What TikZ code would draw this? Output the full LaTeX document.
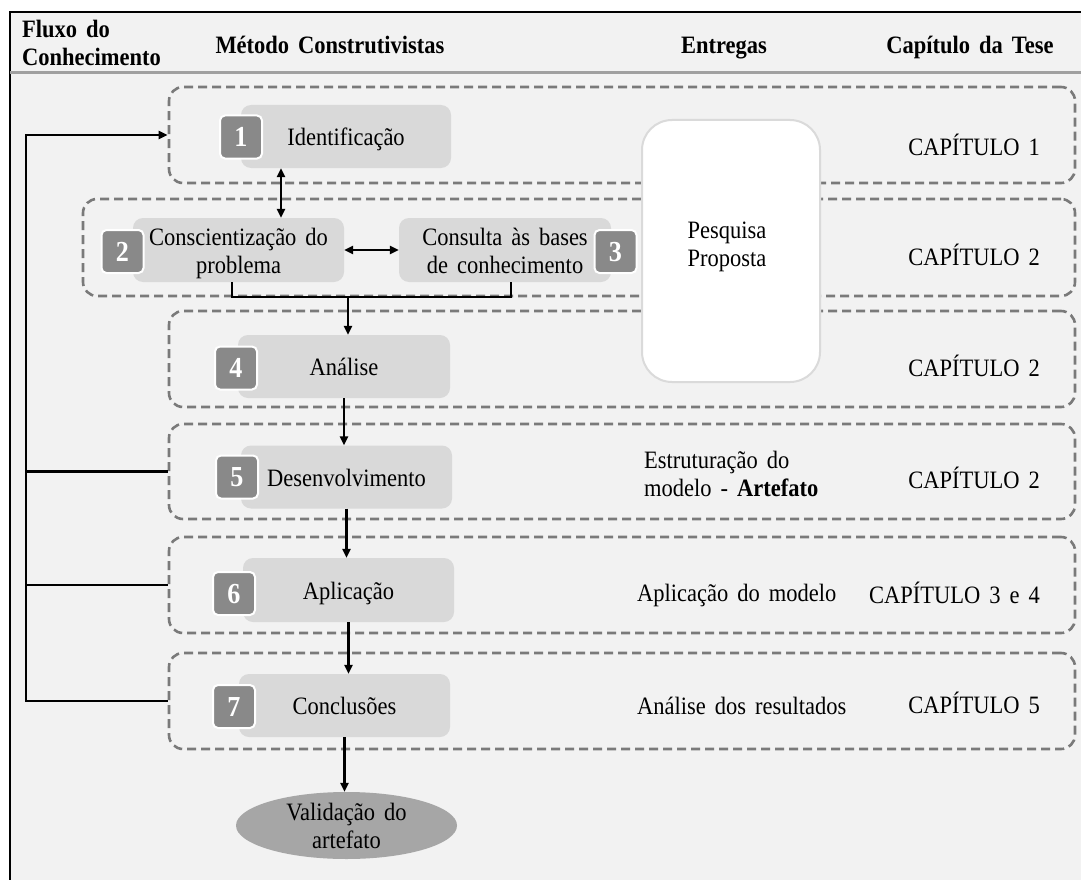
\documentclass[tikz,border=0pt]{standalone}
\usepackage{fontspec}
\setmainfont[WordSpace=1.6, FakeStretch=0.9]{Liberation Serif}
\usetikzlibrary{arrows.meta,shapes.geometric}

\definecolor{paper}{HTML}{F2F2F2}
\definecolor{stepfill}{HTML}{D9D9D9}
\definecolor{badgefill}{HTML}{898989}
\definecolor{ovalfill}{HTML}{A6A6A6}
\definecolor{dashgray}{HTML}{7A7A7A}
\definecolor{rulegray}{HTML}{A0A0A0}
\definecolor{cardedge}{HTML}{DADADA}

\begin{document}
\begin{tikzpicture}[x=1pt,y=-1pt,
  every node/.style={font=\fontsize{25}{28}\selectfont, inner sep=0pt,
                     text height=18pt, text depth=0pt},
  twoline/.style={align=center, text height=46pt, text depth=0pt},
  head/.style={font=\fontsize{25}{28}\selectfont\bfseries},
  grp/.style={draw=dashgray, line width=2.6pt, dash pattern=on 9pt off 5pt,
              rounded corners=14pt, rectangle},
  card/.style={fill=white, draw=cardedge, line width=2pt, rounded corners=30pt,
               minimum width=178pt, minimum height=262pt},
  stepbox/.style={fill=stepfill, rounded corners=10pt},
  badge/.style={fill=badgefill, draw=white, line width=2pt, rounded corners=5pt,
                minimum width=42pt, minimum height=43pt, text=white,
                font=\fontsize{29}{30}\selectfont\bfseries,
                text height=19pt, text depth=0pt},
  oval/.style={ellipse, fill=ovalfill, minimum width=221pt, minimum height=67pt},
  deliv/.style={anchor=west},
  chap/.style={anchor=east},
  flow/.style={line width=2.5pt, black},
  arr/.style={flow, -{Triangle[length=9pt,width=8pt]}},
  dbl/.style={flow, {Triangle[length=9pt,width=8pt]}-{Triangle[length=9pt,width=8pt]}}
]
\useasboundingbox (0,0) rectangle (1081,880);

% page frame and header
\fill[paper] (10,12) rectangle (1081,880);
\draw[line width=2.6pt] (10,880) -- (10,12) -- (1081,12);
\draw[rulegray, line width=3pt] (10,73) -- (1081,73);

\node[head, twoline, align=left, anchor=west] (hflow) at (22,43) {Fluxo do\\Conhecimento};
\node[head] (hmet) at (330,45) {Método Construtivistas};
\node[head] (hent) at (724,45) {Entregas};
\node[head] (hcap) at (970,45) {Capítulo da Tese};

% dashed phase groups
\node[grp, minimum width=906pt, minimum height=96pt] (G1) at (622,135) {};
\node[grp, minimum width=992pt, minimum height=97pt] (G2) at (579,247.5) {};
\node[grp, minimum width=906pt, minimum height=96pt] (G3) at (622,359) {};
\node[grp, minimum width=906pt, minimum height=95pt] (G4) at (622,471.5) {};
\node[grp, minimum width=906pt, minimum height=96pt] (G5) at (622,585) {};
\node[grp, minimum width=906pt, minimum height=96pt] (G6) at (622,701) {};

% deliverable card spanning the first phases
\node[card] (P) at (731,251) {};
\node[twoline] (Ptext) at (727,243) {Pesquisa\\Proposta};

% method steps
\node[stepbox, minimum width=210pt, minimum height=63pt] (B1) at (346,136.5) {Identificação};
\node[stepbox, twoline, minimum width=211pt, minimum height=64pt] (B2) at (238.5,250) {Conscientização do\\problema};
\node[stepbox, twoline, minimum width=212pt, minimum height=64pt] (B3) at (505,250) {Consulta às bases\\de conhecimento};
\node[stepbox, minimum width=212pt, minimum height=63pt] (B4) at (344,366.5) {Análise};
\node[stepbox, minimum width=211pt, minimum height=63pt] (B5) at (346.5,477) {Desenvolvimento};
\node[stepbox, minimum width=211pt, minimum height=64pt] (B6) at (348.5,590) {Aplicação};
\node[stepbox, minimum width=211pt, minimum height=63pt] (B7) at (344.5,705.5) {Conclusões};

% step numbers
\node[badge] (K1) at (241,137) {1};
\node[badge] (K2) at (122.5,251.5) {2};
\node[badge] (K3) at (615.5,251.5) {3};
\node[badge] (K4) at (236,368) {4};
\node[badge] (K5) at (237,477) {5};
\node[badge] (K6) at (234,593.5) {6};
\node[badge] (K7) at (234,706.5) {7};

% final outcome
\node[oval, twoline] (E) at (346.5,825.5) {Validação do\\artefato};

% deliverables
\node[deliv, twoline, align=left] (D5) at (644,473) {Estruturação do\\modelo - \textbf{Artefato}};
\node[deliv] (D6) at (637,592) {Aplicação do modelo};
\node[deliv] (D7) at (637,705) {Análise dos resultados};

% thesis chapters
\node[chap] (C1) at (1040,146) {CAPÍTULO 1};
\node[chap] (C2) at (1040,256) {CAPÍTULO 2};
\node[chap] (C3) at (1040,367) {CAPÍTULO 2};
\node[chap] (C4) at (1040,479) {CAPÍTULO 2};
\node[chap] (C5) at (1040,594) {CAPÍTULO 3 e 4};
\node[chap] (C6) at (1040,704) {CAPÍTULO 5};

% knowledge feedback loop
\coordinate (fbx) at (26,0);
\draw[arr] (G6.west) -- (G6.west -| fbx) -- (G1.west -| fbx) -- (G1.west);
\draw[flow] (G4.west) -- (G4.west -| fbx);
\draw[flow] (G5.west) -- (G5.west -| fbx);

% step connections
\coordinate (c12) at (281,0);
\draw[dbl] (B1.south -| c12) -- (B2.north -| c12);
\draw[dbl] (B2.east) -- (B3.west);
\coordinate (jL) at (232,297);
\coordinate (jR) at (511,297);
\coordinate (jM) at (348,297);
\draw[flow] (B2.south -| jL) -- (jL) -- (jR) -- (B3.south -| jR);
\draw[arr] (jM) -- (B4.north -| jM);
\draw[arr] (B4.south) -- (B4.south |- B5.north);
\draw[arr] (B5.south) -- (B5.south |- B6.north);
\draw[arr] (B6.south) -- (B6.south |- B7.north);
\draw[arr] (B7.south) -- (B7.south |- E.north);
\end{tikzpicture}
\end{document}
